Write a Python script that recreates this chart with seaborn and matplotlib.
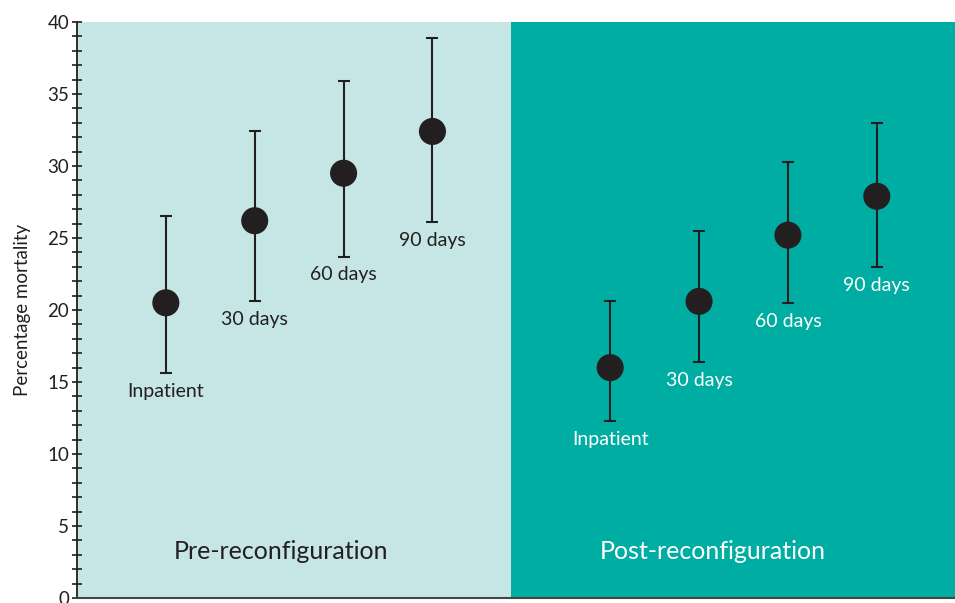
import numpy as np
import pandas as pd
import matplotlib
matplotlib.use("Agg")
import matplotlib.pyplot as plt
import matplotlib.ticker as mticker
import seaborn as sns

# Dados
periodos = ["Pre-reconfiguration", "Post-reconfiguration"]
rotulos = ["Inpatient", "30 days", "60 days", "90 days"]
pre_media = [20.5, 26.2, 29.5, 32.4]
pre_inf = [15.6, 20.6, 23.7, 26.1]
pre_sup = [26.5, 32.4, 35.9, 38.9]
pos_media = [16.0, 20.6, 25.2, 27.9]
pos_inf = [12.3, 16.4, 20.5, 23.0]
pos_sup = [20.6, 25.5, 30.3, 33.0]

COR_CLARA = "#C5E6E4"
COR_TEAL = "#00ADA2"
COR_PONTO = "#231F20"

sns.set_style("white")
plt.rcParams["font.family"] = ["Lato", "DejaVu Sans"]

linhas = []
for g, (media, inf, sup) in enumerate([(pre_media, pre_inf, pre_sup),
                                        (pos_media, pos_inf, pos_sup)]):
    for i, rot in enumerate(rotulos):
        linhas.append({"periodo": periodos[g], "rotulo": rot,
                       "x": g * 5 + i + 1, "media": media[i],
                       "inf": inf[i], "sup": sup[i], "grupo": g})
df = pd.DataFrame(linhas)

fig = plt.figure(figsize=(9.55, 6.03), dpi=100)
ax = fig.add_axes([0.0806, 0.0083, 0.9194, 0.9552])

xmax = 9.88
split = 4.88
ax.axvspan(0, split, color=COR_CLARA, zorder=0, lw=0)
ax.axvspan(split, xmax, color=COR_TEAL, zorder=0, lw=0)

ax.errorbar(df["x"], df["media"],
            yerr=[df["media"] - df["inf"], df["sup"] - df["media"]],
            fmt="none", ecolor=COR_PONTO, elinewidth=1.5, capsize=4.5,
            capthick=1.5, zorder=2)
sns.scatterplot(data=df, x="x", y="media", ax=ax, color=COR_PONTO,
                s=380, edgecolor="none", zorder=3, legend=False)

for _, r in df.iterrows():
    cor = COR_PONTO if r["grupo"] == 0 else "white"
    ax.annotate(r["rotulo"], (r["x"], r["inf"]), xytext=(0, -7),
                textcoords="offset points", ha="center", va="top",
                fontsize=14, color=cor)

# rótulos dos períodos (levemente à esquerda do centro de cada faixa)
centros = [2.3, 7.15]
for g, nome in enumerate(periodos):
    ax.text(centros[g], 3.2, nome, ha="center", va="center", fontsize=18,
            color=COR_PONTO if g == 0 else "white")

ax.set_xlim(0, xmax)
ax.set_ylim(0, 40)
ax.set_xticks([])
ax.set_xlabel("")
ax.set_ylabel("Percentage mortality", fontsize=13.5, color=COR_PONTO, labelpad=12)
ax.yaxis.set_major_locator(mticker.MultipleLocator(5))
ax.yaxis.set_minor_locator(mticker.MultipleLocator(1))
ax.tick_params(axis="y", which="both", direction="inout", length=7,
               width=1.2, color=COR_PONTO, left=True)
ax.tick_params(axis="y", which="major", labelsize=13.5, labelcolor=COR_PONTO, pad=2)
for lado in ["top", "right"]:
    ax.spines[lado].set_visible(False)
ax.spines["left"].set_color(COR_PONTO)
ax.spines["left"].set_linewidth(1.3)
ax.spines["bottom"].set_color("#444444")
ax.spines["bottom"].set_linewidth(1.5)

fig.savefig("out.png", dpi=100)
